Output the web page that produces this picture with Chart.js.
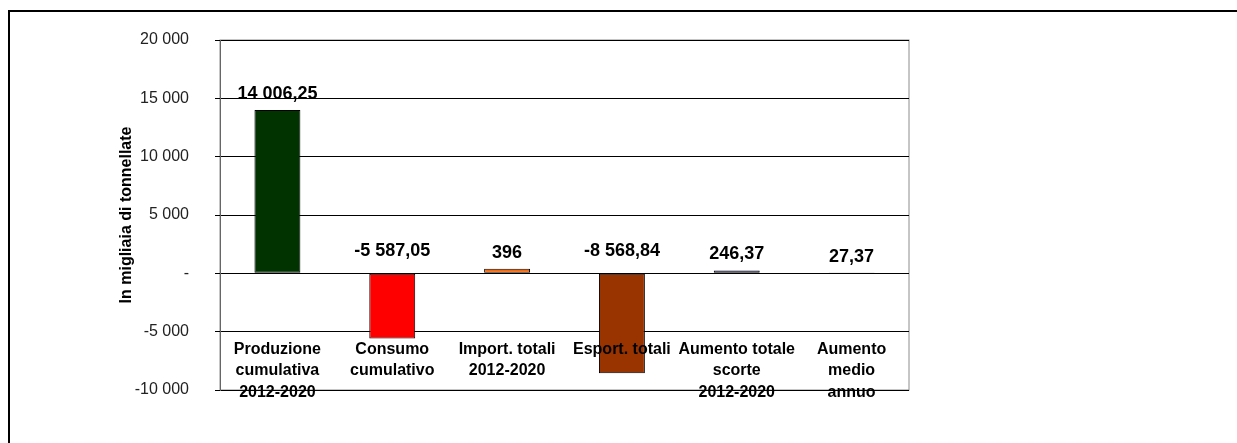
<!DOCTYPE html>
<html>
<head>
<meta charset="utf-8">
<script src="https://cdn.jsdelivr.net/npm/chart.js@4.4.1/dist/chart.umd.min.js"></script>
<style>
    html, body { margin: 0; padding: 0; background: #fff; overflow: hidden; }
    #wrap { position: relative; width: 1237px; height: 443px; }
    #frame { position: absolute; left: 8px; top: 10px; width: 1400px; height: 600px; border: 2px solid #000; }
    #chart { position: absolute; left: 0; top: 0; }
</style>
</head>
<body>
<div id="wrap">
    <div id="frame"></div>
    <canvas id="chart" width="1237" height="443"></canvas>
</div>
<script>
// categorie (etichette su più righe)
const categorie = [
    ['Produzione', 'cumulativa', '2012-2020'],
    ['Consumo', 'cumulativo'],
    ['Import. totali', '2012-2020'],
    ['Esport. totali'],
    ['Aumento totale', 'scorte', '2012-2020'],
    ['Aumento', 'medio', 'annuo']
];

// valori in migliaia di tonnellate
const valori = [14006.25, -5587.05, 396, -8568.84, 246.37, 27.37];

const colori = ['#003300', '#ff0000', '#ff6600', '#993300', '#9999ff', '#993366'];

// tick asse y
const yMin = -10000;
const yMax = 20000;
const yPasso = 5000;

const FONT = '"Liberation Sans", Arial, sans-serif';

// 14006.25 -> "14 006,25", 396 -> "396"
function formatta(v, decimali) {
    let s = Math.abs(v).toFixed(decimali);
    s = s.replace(/\.00$/, '');
    let [intero, dec] = s.split('.');
    intero = intero.replace(/\B(?=(\d{3})+(?!\d))/g, ' ');
    return (v < 0 ? '-' : '') + intero + (dec ? ',' + dec : '');
}

// bordo grigio dell'area del grafico
const bordoArea = {
    id: 'bordoArea',
    beforeDraw(chart) {
        const { ctx, chartArea: a } = chart;
        ctx.save();
        ctx.strokeStyle = '#8c8c8c';
        ctx.lineWidth = 1;
        ctx.strokeRect(a.left, a.top, a.right - a.left, a.bottom - a.top);
        ctx.restore();
    }
};

// etichette dei valori sopra le barre
const etichetteValori = {
    id: 'etichetteValori',
    afterDatasetsDraw(chart) {
        const { ctx } = chart;
        const y = chart.scales.y;
        const meta = chart.getDatasetMeta(0);
        ctx.save();
        ctx.font = 'bold 18px ' + FONT;
        ctx.fillStyle = '#000';
        ctx.textAlign = 'center';
        ctx.textBaseline = 'middle';
        meta.data.forEach((bar, i) => {
            const v = valori[i];
            const base = y.getPixelForValue(Math.max(v, 0));
            ctx.fillText(formatta(v, 2), bar.x, base - (v < 0 ? 22 : 16));
        });
        ctx.restore();
    }
};

const config = {
    type: 'bar',
    data: {
        labels: categorie,
        datasets: [{
            data: valori,
            backgroundColor: colori,
            borderColor: '#000',
            borderWidth: 1,
            borderSkipped: false,
            barPercentage: 0.4,
            categoryPercentage: 1
        }]
    },
    options: {
        responsive: false,
        animation: false,
        events: [],
        layout: {
            padding: { left: 117, right: 328, top: 40, bottom: 53 }
        },
        plugins: {
            legend: { display: false },
            tooltip: { enabled: false }
        },
        scales: {
            x: {
                position: { y: -5000 },
                grid: { display: false, drawTicks: false, tickLength: 0 },
                border: { display: false },
                ticks: {
                    z: 1, // testo sopra le barre, come nell'originale
                    color: '#000',
                    padding: 7,
                    maxRotation: 0,
                    autoSkip: false,
                    font: { family: FONT, size: 16, weight: 'bold', lineHeight: 1.34 }
                }
            },
            y: {
                min: yMin,
                max: yMax,
                afterFit(scale) { scale.width = 103; },
                grid: { color: '#000', lineWidth: 1, tickLength: 5 },
                border: { display: true, color: '#666' },
                ticks: {
                    stepSize: yPasso,
                    color: '#222',
                    padding: 26,
                    font: { family: FONT, size: 16 },
                    callback: v => v === 0 ? '-' : formatta(v, 0)
                },
                title: {
                    display: true,
                    text: 'In migliaia di tonnellate',
                    color: '#000',
                    padding: 0,
                    font: { family: FONT, size: 16, weight: 'bold' }
                }
            }
        }
    },
    plugins: [bordoArea, etichetteValori]
};

new Chart(document.querySelector('#chart'), config);
</script>
</body>
</html>
